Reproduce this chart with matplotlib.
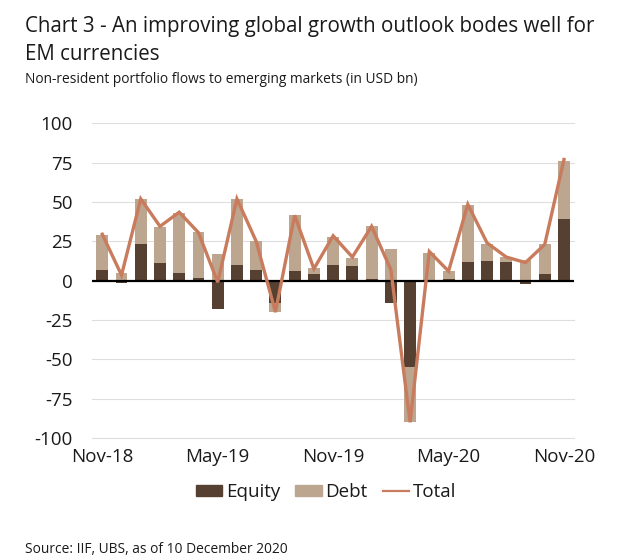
import numpy as np
import matplotlib
matplotlib.use("Agg")
import matplotlib.pyplot as plt
from matplotlib.lines import Line2D
from matplotlib.patches import Patch

plt.rcParams['font.family'] = ['Open Sans', 'DejaVu Sans']

months = ["Nov-18", "Dec-18", "Jan-19", "Feb-19", "Mar-19", "Apr-19", "May-19", "Jun-19",
          "Jul-19", "Aug-19", "Sep-19", "Oct-19", "Nov-19", "Dec-19", "Jan-20", "Feb-20",
          "Mar-20", "Apr-20", "May-20", "Jun-20", "Jul-20", "Aug-20", "Sep-20", "Oct-20", "Nov-20"]
equity = [7, -1.5, 23, 11, 5, 2, -18, 10, 7, -14, 6, 4, 10, 9.5, 1, -14, -55, 0.5, 1, 12, 12.5, 12, -2, 4, 39]
debt = [22, 5, 29, 23, 38, 29, 17, 42, 18, -6, 36, 4, 18, 5, 34, 20, -35, 17, 5, 36, 11, 3, 13, 19, 37]
total = [29.5, 3.5, 52, 34.5, 43.5, 30.5, -1, 52, 25, -20, 41.5, 7.5, 28.5, 15, 34.5, 7, -90, 18.5, 6, 48.5, 24, 15, 11.5, 23, 77]
tick_labels = ["Nov-18", "May-19", "Nov-19", "May-20", "Nov-20"]
yticks = [100, 75, 50, 25, 0, -25, -50, -75, -100]

C_EQ = "#554032"
C_DEBT = "#bca68f"
C_TOT = "#c97c5d"

W, H = 626, 558
fig = plt.figure(figsize=(W / 100, H / 100), dpi=100)
ax = fig.add_axes([91.7 / W, (H - 438) / H, (573.6 - 91.7) / W, (438 - 123.3) / H])

x = np.arange(len(months))
eq = np.array(equity)
de = np.array(debt)
debt_bottom = np.where(np.sign(de) == np.sign(eq), eq, 0)

for yv in yticks:
    if yv != 0:
        ax.axhline(yv, color="#dedede", lw=0.8, zorder=0, clip_on=False)

ax.bar(x, eq, width=0.62, color=C_EQ, zorder=2)
ax.bar(x, de, bottom=debt_bottom, width=0.62, color=C_DEBT, zorder=2)
ax.axhline(0, color="black", lw=1.6, zorder=3)
ax.plot(x, total, color=C_TOT, lw=2.4, zorder=4, solid_joinstyle="miter")

ax.set_xlim(-0.55, 24.5)
ax.set_ylim(-100, 100)
ax.set_yticks(yticks)
ax.set_yticklabels([str(v) for v in yticks])
ax.set_xticks([months.index(t) for t in tick_labels])
ax.set_xticklabels(tick_labels)
ax.tick_params(axis="y", length=0, pad=13.5, labelsize=13.5, colors="#1a1a1a")
ax.tick_params(axis="x", length=0, pad=7, labelsize=13.5, colors="#1a1a1a")
for s in ax.spines.values():
    s.set_visible(False)

handles = [Patch(color=C_EQ), Patch(color=C_DEBT), Line2D([], [], color=C_TOT, lw=1.6)]
fig.legend(handles, ["Equity", "Debt", "Total"], loc="center",
           bbox_to_anchor=(326 / W, 1 - 492 / H), ncol=3, frameon=False,
           fontsize=13.5, handlelength=1.4, handleheight=0.55, handletextpad=0.2,
           columnspacing=0.8, labelcolor="#1a1a1a")

fig.text(25 / W, 1 - 32 / H, "Chart 3 - An improving global growth outlook bodes well for",
         fontsize=14.8, va="baseline", ha="left", color="#1a1a1a")
fig.text(25 / W, 1 - 60 / H, "EM currencies", fontsize=14.8, va="baseline", ha="left", color="#1a1a1a")
fig.text(25 / W, 1 - 83 / H, "Non-resident portfolio flows to emerging markets (in USD bn)",
         fontsize=9.9, va="baseline", ha="left", color="#1a1a1a")
fig.text(25 / W, 1 - 553 / H, "Source: IIF, UBS, as of 10 December 2020",
         fontsize=9.9, va="baseline", ha="left", color="#1a1a1a")

fig.savefig("out.png", dpi=100, facecolor="white")
